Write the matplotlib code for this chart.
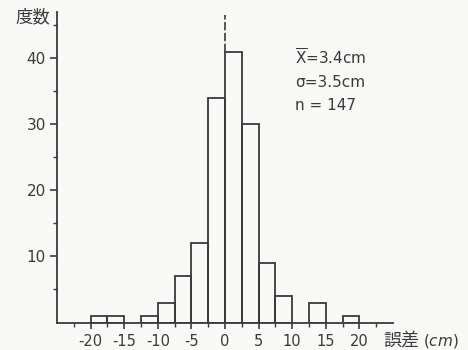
import numpy as np
import matplotlib
matplotlib.use('Agg')
import matplotlib.pyplot as plt

# Histogram data (bin width 2.5 cm)
bin_left = [-20, -17.5, -15, -12.5, -10, -7.5, -5, -2.5, 0, 2.5, 5, 7.5, 10, 12.5, 15, 17.5]
counts = [1, 1, 0, 1, 3, 7, 12, 34, 41, 30, 9, 4, 0, 3, 0, 1]
bin_width = 2.5

x_major = [-20, -15, -10, -5, 0, 5, 10, 15, 20]
x_labels = ['-20', '-15', '-10', '-5', '0', '5', '10', '15', '20']
x_minor = [-22.5, -17.5, -12.5, -7.5, -2.5, 2.5, 7.5, 12.5, 17.5, 22.5]
y_major = [10, 20, 30, 40]
y_minor = [5, 15, 25, 35, 45]

stats = [r'$\overline{\mathrm{X}}$=3.4cm', 'σ=3.5cm', 'n = 147']

INK = '#3a3a3a'
BG = '#f9f9f7'
JP = ['Noto Sans CJK JP', 'DejaVu Sans']

fig = plt.figure(figsize=(4.68, 3.5), dpi=100, facecolor=BG)
ax = fig.add_axes([57/468, 1 - 322.5/350, (393 - 57)/468, (322.5 - 12)/350])
ax.set_facecolor(BG)

# draw only non-empty bins
lefts = [l for l, c in zip(bin_left, counts) if c > 0]
heights = [c for c in counts if c > 0]
ax.bar(lefts, heights, width=bin_width, align='edge',
       facecolor='none', edgecolor=INK, linewidth=1.3)

# mean marker line above the tallest bar
ax.plot([0, 0], [max(counts), 46.6], color=INK, lw=1.2, ls=(0, (5, 1.5)))

ax.set_xlim(-25, 25)
ax.set_ylim(0, 47)
for s in ['top', 'right']:
    ax.spines[s].set_visible(False)
for s in ['left', 'bottom']:
    ax.spines[s].set_color(INK)
    ax.spines[s].set_linewidth(1.3)

ax.set_xticks(x_major)
ax.set_xticklabels(x_labels)
ax.set_xticks(x_minor, minor=True)
ax.set_yticks(y_major)
ax.set_yticks(y_minor, minor=True)
ax.tick_params(axis='x', which='major', direction='out', length=4, width=1.2,
               pad=4, labelsize=10.5, colors=INK)
ax.tick_params(axis='x', which='minor', direction='out', length=3, width=1.0, colors=INK)
ax.tick_params(axis='y', which='major', direction='out', length=5, width=1.2,
               pad=3, labelsize=11, colors=INK)
ax.tick_params(axis='y', which='minor', direction='out', length=3, width=1.0, colors=INK)

# statistics
for i, t in enumerate(stats):
    ax.text(10.4, 40 - 3.6 * i, t, fontsize=11, color=INK, va='center', ha='left')

# axis labels
fig.text(33/468, 1 - 17/350, '度数', family=JP, fontsize=12.5, color=INK,
         ha='center', va='center')
fig.text(383/468, 1 - 341/350, '誤差', family=JP, fontsize=13, color=INK,
         ha='left', va='center')
fig.text(423/468, 1 - 341/350, r'($\it{cm}$)', fontsize=11, color=INK,
         ha='left', va='center')

fig.savefig('out.png', dpi=100, facecolor=BG)
